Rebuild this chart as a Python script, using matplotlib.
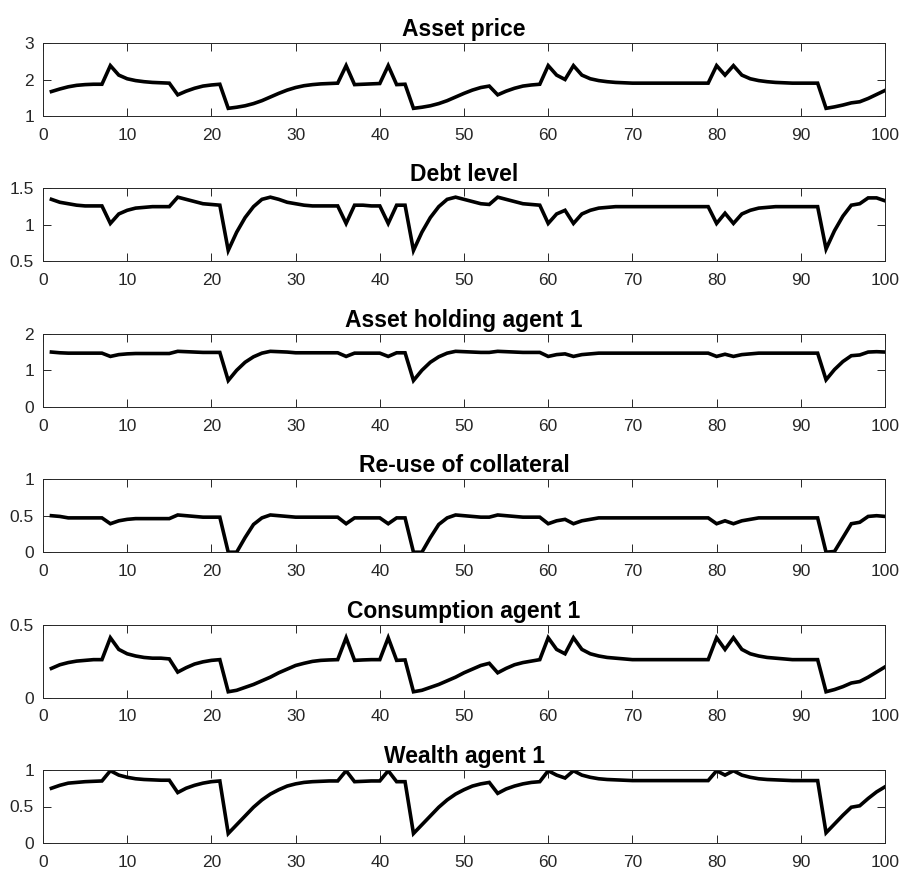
import numpy as np
import matplotlib
matplotlib.use("Agg")
import matplotlib.pyplot as plt

plt.rcParams["font.family"] = ["Liberation Sans", "DejaVu Sans"]

periods = list(range(1, 101))

asset_price = [
    1.67, 1.74, 1.80, 1.84, 1.86, 1.87, 1.87, 2.38, 2.12, 2.02,
    1.97, 1.94, 1.92, 1.91, 1.90, 1.58, 1.68, 1.76, 1.82, 1.85,
    1.87, 1.21, 1.24, 1.28, 1.34, 1.42, 1.52, 1.62, 1.71, 1.78,
    1.83, 1.86, 1.88, 1.89, 1.90, 2.38, 1.86, 1.87, 1.88, 1.89,
    2.38, 1.86, 1.87, 1.21, 1.24, 1.28, 1.34, 1.42, 1.52, 1.62,
    1.71, 1.78, 1.82, 1.58, 1.68, 1.76, 1.82, 1.85, 1.87, 2.38,
    2.12, 2.00, 2.38, 2.12, 2.02, 1.97, 1.94, 1.92, 1.91, 1.90,
    1.90, 1.90, 1.90, 1.90, 1.90, 1.90, 1.90, 1.90, 1.90, 2.38,
    2.12, 2.38, 2.12, 2.02, 1.97, 1.94, 1.92, 1.91, 1.90, 1.90,
    1.90, 1.90, 1.21, 1.25, 1.30, 1.36, 1.39, 1.48, 1.59, 1.70,
]

debt_level = [
    1.35, 1.31, 1.29, 1.27, 1.26, 1.26, 1.26, 1.02, 1.15, 1.20,
    1.23, 1.24, 1.25, 1.25, 1.25, 1.38, 1.35, 1.32, 1.29, 1.28,
    1.27, 0.65, 0.90, 1.10, 1.25, 1.35, 1.38, 1.35, 1.31, 1.29,
    1.27, 1.26, 1.26, 1.26, 1.26, 1.02, 1.27, 1.27, 1.26, 1.26,
    1.02, 1.27, 1.27, 0.65, 0.90, 1.10, 1.25, 1.35, 1.38, 1.35,
    1.32, 1.29, 1.28, 1.38, 1.35, 1.32, 1.29, 1.28, 1.27, 1.02,
    1.15, 1.20, 1.02, 1.15, 1.20, 1.23, 1.24, 1.25, 1.25, 1.25,
    1.25, 1.25, 1.25, 1.25, 1.25, 1.25, 1.25, 1.25, 1.25, 1.02,
    1.16, 1.02, 1.15, 1.20, 1.23, 1.24, 1.25, 1.25, 1.25, 1.25,
    1.25, 1.25, 0.67, 0.92, 1.12, 1.27, 1.29, 1.37, 1.37, 1.33,
]

asset_holding = [
    1.50, 1.48, 1.47, 1.47, 1.47, 1.47, 1.47, 1.38, 1.43, 1.45,
    1.46, 1.46, 1.46, 1.46, 1.46, 1.52, 1.51, 1.50, 1.49, 1.49,
    1.49, 0.72, 1.00, 1.22, 1.37, 1.47, 1.52, 1.51, 1.50, 1.48,
    1.48, 1.48, 1.48, 1.48, 1.48, 1.38, 1.47, 1.47, 1.47, 1.47,
    1.38, 1.48, 1.48, 0.72, 1.00, 1.22, 1.37, 1.47, 1.52, 1.51,
    1.50, 1.49, 1.49, 1.52, 1.51, 1.50, 1.49, 1.49, 1.49, 1.38,
    1.43, 1.45, 1.38, 1.43, 1.45, 1.47, 1.47, 1.47, 1.47, 1.47,
    1.47, 1.47, 1.47, 1.47, 1.47, 1.47, 1.47, 1.47, 1.47, 1.38,
    1.44, 1.38, 1.43, 1.45, 1.47, 1.47, 1.47, 1.47, 1.47, 1.47,
    1.47, 1.47, 0.74, 1.02, 1.24, 1.40, 1.42, 1.50, 1.51, 1.50,
]

reuse_collateral = [
    0.50, 0.49, 0.47, 0.47, 0.47, 0.47, 0.47, 0.39, 0.43, 0.45,
    0.46, 0.46, 0.46, 0.46, 0.46, 0.51, 0.50, 0.49, 0.48, 0.48,
    0.48, 0.00, 0.00, 0.20, 0.38, 0.47, 0.51, 0.50, 0.49, 0.48,
    0.48, 0.48, 0.48, 0.48, 0.48, 0.39, 0.47, 0.47, 0.47, 0.47,
    0.39, 0.47, 0.47, 0.00, 0.00, 0.20, 0.38, 0.47, 0.51, 0.50,
    0.49, 0.48, 0.48, 0.51, 0.50, 0.49, 0.48, 0.48, 0.48, 0.39,
    0.43, 0.45, 0.39, 0.43, 0.45, 0.47, 0.47, 0.47, 0.47, 0.47,
    0.47, 0.47, 0.47, 0.47, 0.47, 0.47, 0.47, 0.47, 0.47, 0.39,
    0.43, 0.39, 0.43, 0.45, 0.47, 0.47, 0.47, 0.47, 0.47, 0.47,
    0.47, 0.47, 0.00, 0.01, 0.20, 0.39, 0.41, 0.49, 0.50, 0.49,
]

consumption = [
    0.200, 0.225, 0.240, 0.250, 0.255, 0.260, 0.260, 0.410, 0.330, 0.300,
    0.285, 0.275, 0.270, 0.270, 0.265, 0.175, 0.205, 0.230, 0.245, 0.255,
    0.260, 0.040, 0.050, 0.070, 0.090, 0.115, 0.140, 0.170, 0.195, 0.220,
    0.235, 0.248, 0.255, 0.258, 0.260, 0.410, 0.255, 0.258, 0.260, 0.260,
    0.410, 0.255, 0.258, 0.040, 0.050, 0.070, 0.090, 0.115, 0.140, 0.170,
    0.195, 0.220, 0.235, 0.170, 0.200, 0.225, 0.240, 0.250, 0.260, 0.410,
    0.330, 0.300, 0.410, 0.330, 0.300, 0.285, 0.275, 0.270, 0.265, 0.260,
    0.260, 0.260, 0.260, 0.260, 0.260, 0.260, 0.260, 0.260, 0.260, 0.410,
    0.330, 0.410, 0.330, 0.300, 0.285, 0.275, 0.270, 0.265, 0.260, 0.260,
    0.260, 0.260, 0.040, 0.055, 0.075, 0.100, 0.110, 0.140, 0.175, 0.210,
]

wealth = [
    0.75, 0.79, 0.82, 0.83, 0.84, 0.845, 0.85, 0.99, 0.93, 0.90,
    0.88, 0.87, 0.865, 0.86, 0.86, 0.69, 0.75, 0.79, 0.82, 0.84,
    0.85, 0.13, 0.25, 0.37, 0.49, 0.59, 0.67, 0.73, 0.78, 0.81,
    0.83, 0.84, 0.845, 0.85, 0.85, 0.99, 0.84, 0.845, 0.85, 0.85,
    0.99, 0.84, 0.84, 0.13, 0.25, 0.37, 0.49, 0.59, 0.67, 0.73,
    0.78, 0.81, 0.83, 0.68, 0.74, 0.78, 0.81, 0.83, 0.84, 0.99,
    0.93, 0.89, 0.99, 0.93, 0.90, 0.88, 0.87, 0.865, 0.86, 0.855,
    0.855, 0.855, 0.855, 0.855, 0.855, 0.855, 0.855, 0.855, 0.855, 0.99,
    0.93, 0.99, 0.93, 0.90, 0.88, 0.87, 0.865, 0.86, 0.855, 0.855,
    0.855, 0.855, 0.14, 0.26, 0.38, 0.49, 0.51, 0.61, 0.70, 0.77,
]

titles = ["Asset price", "Debt level", "Asset holding agent 1",
          "Re-use of collateral", "Consumption agent 1", "Wealth agent 1"]
series = [asset_price, debt_level, asset_holding,
          reuse_collateral, consumption, wealth]
ylims = [(1, 3), (0.5, 1.5), (0, 2), (0, 1), (0, 0.5), (0, 1)]
yticks = [[1, 2, 3], [0.5, 1, 1.5], [0, 1, 2], [0, 0.5, 1], [0, 0.5], [0, 0.5, 1]]
yticklabels = [["1", "2", "3"], ["0.5", "1", "1.5"], ["0", "1", "2"],
               ["0", "0.5", "1"], ["0", "0.5"], ["0", "0.5", "1"]]

W, H = 902, 873
fig = plt.figure(figsize=(W / 100, H / 100), dpi=100)

# MATLAB-like stacked subplots (pixel layout)
left, right = 43, 885
ax_h, step, first_bottom = 73, 145.4, 116
grey = "#262626"

for k, (title, y) in enumerate(zip(titles, series)):
    bottom = H - (first_bottom + step * k)
    ax = fig.add_axes([left / W, bottom / H, (right - left) / W, ax_h / H])
    ax.plot(periods, y, color="black", linewidth=2.6, solid_joinstyle="miter")
    ax.set_xlim(0, 100)
    ax.set_ylim(*ylims[k])
    ax.set_xticks(np.arange(0, 101, 10))
    ax.set_yticks(yticks[k])
    ax.set_yticklabels(yticklabels[k])
    ax.set_title(title, fontsize=16.5, fontweight="bold", pad=5)
    ax.tick_params(direction="in", top=True, right=True, length=5.5,
                   width=0.7, labelsize=12.5, colors=grey, labelcolor=grey)
    ax.tick_params(axis="x", pad=8.5)
    ax.tick_params(axis="y", pad=6.5)
    for sp in ax.spines.values():
        sp.set_color(grey)
        sp.set_linewidth(0.7)

fig.savefig("out.png", dpi=100)
